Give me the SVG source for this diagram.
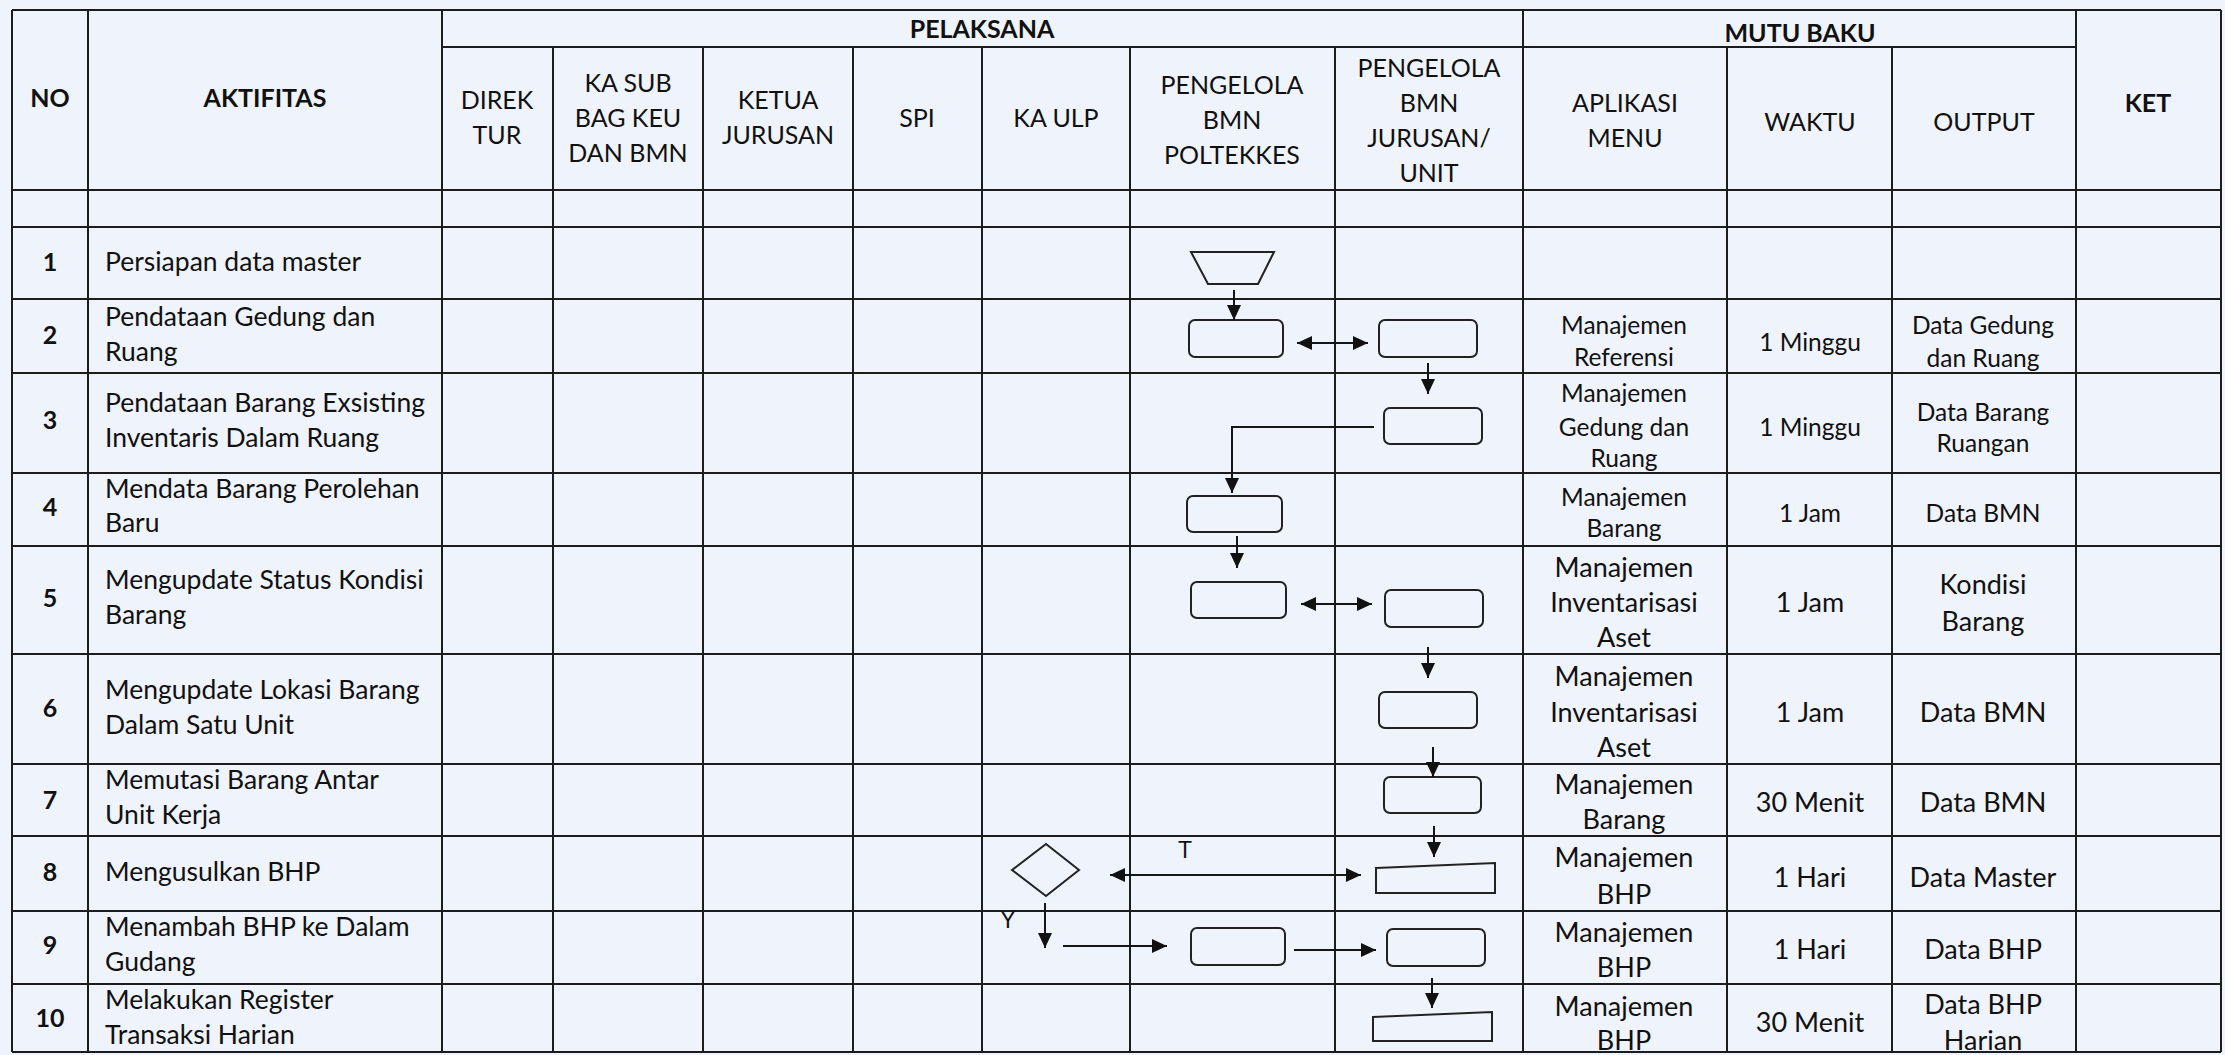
<svg xmlns="http://www.w3.org/2000/svg" width="2225" height="1055" viewBox="0 0 2225 1055">
<style>
.bg{fill:#eff3fb}
.g line{stroke:#1c1c1c;stroke-width:2}
text{font-family:Lato,"Liberation Sans",sans-serif;fill:#111}
.h{font-size:25px;text-anchor:middle}
.hb{font-size:25px;text-anchor:middle;font-weight:bold}
.nb{font-size:25px;text-anchor:middle;font-weight:bold}
.r{font-size:26.5px}
.s{font-size:24.5px;text-anchor:middle}
.m{font-size:27px;text-anchor:middle}
.lbl{font-family:"Liberation Sans",Arial,sans-serif;font-size:23px;text-anchor:middle}
.shp{fill:none;stroke:#222;stroke-width:2}
.cn{fill:none;stroke:#151515;stroke-width:2}
.ah{marker-end:url(#arr)}
.dbl{marker-start:url(#arrs);marker-end:url(#arr)}
</style>
<defs>
<marker id="arr" markerUnits="userSpaceOnUse" markerWidth="16" markerHeight="14" refX="15" refY="7" orient="auto">
<path d="M0,0 L15,7 L0,14 z" fill="#111"/>
</marker>
<marker id="arrs" markerUnits="userSpaceOnUse" markerWidth="16" markerHeight="14" refX="0" refY="7" orient="auto">
<path d="M15,0 L0,7 L15,14 z" fill="#111"/>
</marker>
</defs>
<rect class="bg" x="0" y="0" width="2225" height="1055"/>

<g id="table" class="g">
<line x1="12" y1="10" x2="2221" y2="10"/>
<line x1="442" y1="47" x2="2076" y2="47"/>
<line x1="12" y1="190" x2="2221" y2="190"/>
<line x1="12" y1="227" x2="2221" y2="227"/>
<line x1="12" y1="299" x2="2221" y2="299"/>
<line x1="12" y1="373" x2="2221" y2="373"/>
<line x1="12" y1="473" x2="2221" y2="473"/>
<line x1="12" y1="546" x2="2221" y2="546"/>
<line x1="12" y1="654" x2="2221" y2="654"/>
<line x1="12" y1="764" x2="2221" y2="764"/>
<line x1="12" y1="836" x2="2221" y2="836"/>
<line x1="12" y1="911" x2="2221" y2="911"/>
<line x1="12" y1="984" x2="2221" y2="984"/>
<line x1="12" y1="1052" x2="2221" y2="1052"/>
<line x1="12" y1="10" x2="12" y2="1052"/>
<line x1="88" y1="10" x2="88" y2="1052"/>
<line x1="442" y1="10" x2="442" y2="1052"/>
<line x1="553" y1="47" x2="553" y2="1052"/>
<line x1="703" y1="47" x2="703" y2="1052"/>
<line x1="853" y1="47" x2="853" y2="1052"/>
<line x1="982" y1="47" x2="982" y2="1052"/>
<line x1="1130" y1="47" x2="1130" y2="1052"/>
<line x1="1335" y1="47" x2="1335" y2="1052"/>
<line x1="1523" y1="10" x2="1523" y2="1052"/>
<line x1="1727" y1="47" x2="1727" y2="1052"/>
<line x1="1892" y1="47" x2="1892" y2="1052"/>
<line x1="2076" y1="10" x2="2076" y2="1052"/>
<line x1="2221" y1="10" x2="2221" y2="1052"/>
</g>

<g id="header">
<text class="hb" x="50" y="107">NO</text>
<text class="hb" x="265" y="107">AKTIFITAS</text>
<text class="hb" x="982" y="38">PELAKSANA</text>
<text class="hb" x="1800" y="42">MUTU BAKU</text>
<text class="hb" x="2148" y="112">KET</text>
<text class="h" x="497" y="109">DIREK</text>
<text class="h" x="497" y="144">TUR</text>
<text class="h" x="628" y="92">KA SUB</text>
<text class="h" x="628" y="127">BAG KEU</text>
<text class="h" x="628" y="162">DAN BMN</text>
<text class="h" x="778" y="109">KETUA</text>
<text class="h" x="778" y="144">JURUSAN</text>
<text class="h" x="917" y="127">SPI</text>
<text class="h" x="1056" y="127">KA ULP</text>
<text class="h" x="1232" y="94">PENGELOLA</text>
<text class="h" x="1232" y="129">BMN</text>
<text class="h" x="1232" y="164">POLTEKKES</text>
<text class="h" x="1429" y="77">PENGELOLA</text>
<text class="h" x="1429" y="112">BMN</text>
<text class="h" x="1429" y="147">JURUSAN/</text>
<text class="h" x="1429" y="182">UNIT</text>
<text class="h" x="1625" y="112">APLIKASI</text>
<text class="h" x="1625" y="147">MENU</text>
<text class="h" x="1810" y="131">WAKTU</text>
<text class="h" x="1984" y="131">OUTPUT</text>
</g>

<g id="rows">
<text class="nb" x="50" y="271">1</text>
<text class="r" x="105" y="271">Persiapan data master</text>
<text class="nb" x="50" y="344">2</text>
<text class="r" x="105" y="326">Pendataan Gedung dan</text>
<text class="r" x="105" y="361">Ruang</text>
<text class="nb" x="50" y="429">3</text>
<text class="r" x="105" y="412">Pendataan Barang Exsisting</text>
<text class="r" x="105" y="447">Inventaris Dalam Ruang</text>
<text class="nb" x="50" y="516">4</text>
<text class="r" x="105" y="498">Mendata Barang Perolehan</text>
<text class="r" x="105" y="532">Baru</text>
<text class="nb" x="50" y="607">5</text>
<text class="r" x="105" y="589">Mengupdate Status Kondisi</text>
<text class="r" x="105" y="624">Barang</text>
<text class="nb" x="50" y="717">6</text>
<text class="r" x="105" y="699">Mengupdate Lokasi Barang</text>
<text class="r" x="105" y="734">Dalam Satu Unit</text>
<text class="nb" x="50" y="809">7</text>
<text class="r" x="105" y="789">Memutasi Barang Antar</text>
<text class="r" x="105" y="824">Unit Kerja</text>
<text class="nb" x="50" y="881">8</text>
<text class="r" x="105" y="881">Mengusulkan BHP</text>
<text class="nb" x="50" y="954">9</text>
<text class="r" x="105" y="936">Menambah BHP ke Dalam</text>
<text class="r" x="105" y="971">Gudang</text>
<text class="nb" x="50" y="1027">10</text>
<text class="r" x="105" y="1009">Melakukan Register</text>
<text class="r" x="105" y="1044">Transaksi Harian</text>
</g>

<g id="mutu">
<text class="s" x="1624" y="334">Manajemen</text>
<text class="s" x="1624" y="366">Referensi</text>
<text class="s" x="1810" y="351">1 Minggu</text>
<text class="s" x="1983" y="334">Data Gedung</text>
<text class="s" x="1983" y="367">dan Ruang</text>
<text class="s" x="1624" y="402">Manajemen</text>
<text class="s" x="1624" y="436">Gedung dan</text>
<text class="s" x="1624" y="467">Ruang</text>
<text class="s" x="1810" y="436">1 Minggu</text>
<text class="s" x="1983" y="421">Data Barang</text>
<text class="s" x="1983" y="452">Ruangan</text>
<text class="s" x="1624" y="506">Manajemen</text>
<text class="s" x="1624" y="537">Barang</text>
<text class="s" x="1810" y="522">1 Jam</text>
<text class="s" x="1983" y="522">Data BMN</text>
<text class="m" x="1624" y="577">Manajemen</text>
<text class="m" x="1624" y="612">Inventarisasi</text>
<text class="m" x="1624" y="647">Aset</text>
<text class="m" x="1810" y="612">1 Jam</text>
<text class="m" x="1983" y="594">Kondisi</text>
<text class="m" x="1983" y="631">Barang</text>
<text class="m" x="1624" y="686">Manajemen</text>
<text class="m" x="1624" y="722">Inventarisasi</text>
<text class="m" x="1624" y="757">Aset</text>
<text class="m" x="1810" y="722">1 Jam</text>
<text class="m" x="1983" y="722">Data BMN</text>
<text class="m" x="1624" y="794">Manajemen</text>
<text class="m" x="1624" y="829">Barang</text>
<text class="m" x="1810" y="812">30 Menit</text>
<text class="m" x="1983" y="812">Data BMN</text>
<text class="m" x="1624" y="867">Manajemen</text>
<text class="m" x="1624" y="904">BHP</text>
<text class="m" x="1810" y="887">1 Hari</text>
<text class="m" x="1983" y="887">Data Master</text>
<text class="m" x="1624" y="942">Manajemen</text>
<text class="m" x="1624" y="977">BHP</text>
<text class="m" x="1810" y="959">1 Hari</text>
<text class="m" x="1983" y="959">Data BHP</text>
<text class="m" x="1624" y="1016">Manajemen</text>
<text class="m" x="1624" y="1050">BHP</text>
<text class="m" x="1810" y="1032">30 Menit</text>
<text class="m" x="1983" y="1014">Data BHP</text>
<text class="m" x="1983" y="1050">Harian</text>
</g>

<g id="n1-start"><polygon class="shp" points="1191,252 1274,252 1258,284 1208,284"/></g>
<g id="n2-poltekkes"><rect class="shp" x="1189" y="320" width="94" height="37" rx="6"/></g>
<g id="n2-unit"><rect class="shp" x="1379" y="320" width="98" height="37" rx="6"/></g>
<g id="n3-unit"><rect class="shp" x="1384" y="408" width="98" height="36" rx="6"/></g>
<g id="n4-poltekkes"><rect class="shp" x="1187" y="496" width="95" height="36" rx="6"/></g>
<g id="n5-poltekkes"><rect class="shp" x="1191" y="582" width="95" height="36" rx="6"/></g>
<g id="n5-unit"><rect class="shp" x="1385" y="590" width="98" height="37" rx="6"/></g>
<g id="n6-unit"><rect class="shp" x="1379" y="692" width="98" height="36" rx="6"/></g>
<g id="n7-unit"><rect class="shp" x="1384" y="777" width="97" height="36" rx="6"/></g>
<g id="n8-decision"><polygon class="shp" points="1046,844 1079,870 1046,896 1012,870"/></g>
<g id="n8-unit"><polygon class="shp" points="1376,868 1495,863 1495,893 1376,893"/></g>
<g id="n9-poltekkes"><rect class="shp" x="1191" y="928" width="94" height="37" rx="6"/></g>
<g id="n9-unit"><rect class="shp" x="1387" y="929" width="98" height="37" rx="6"/></g>
<g id="n10-unit"><polygon class="shp" points="1373,1017 1492,1012 1492,1041 1373,1041"/></g>

<g id="connectors">
<line class="cn ah" x1="1234" y1="290" x2="1234" y2="320"/>
<line class="cn dbl" x1="1297" y1="343" x2="1368" y2="343"/>
<line class="cn ah" x1="1428" y1="363" x2="1428" y2="394"/>
<polyline class="cn ah" points="1374,427 1232,427 1232,493"/>
<line class="cn ah" x1="1237" y1="536" x2="1237" y2="568"/>
<line class="cn dbl" x1="1301" y1="604" x2="1372" y2="604"/>
<line class="cn ah" x1="1428" y1="647" x2="1428" y2="678"/>
<line class="cn ah" x1="1433" y1="747" x2="1433" y2="777"/>
<line class="cn ah" x1="1434" y1="826" x2="1434" y2="857"/>
<line class="cn dbl" x1="1110" y1="875" x2="1361" y2="875"/>
<text class="lbl" x="1185" y="858">T</text>
<line class="cn ah" x1="1045" y1="903" x2="1045" y2="948"/>
<text class="lbl" x="1008" y="928">Y</text>
<line class="cn ah" x1="1063" y1="946" x2="1167" y2="946"/>
<line class="cn ah" x1="1294" y1="950" x2="1376" y2="950"/>
<line class="cn ah" x1="1432" y1="978" x2="1432" y2="1008"/>
</g>
</svg>
